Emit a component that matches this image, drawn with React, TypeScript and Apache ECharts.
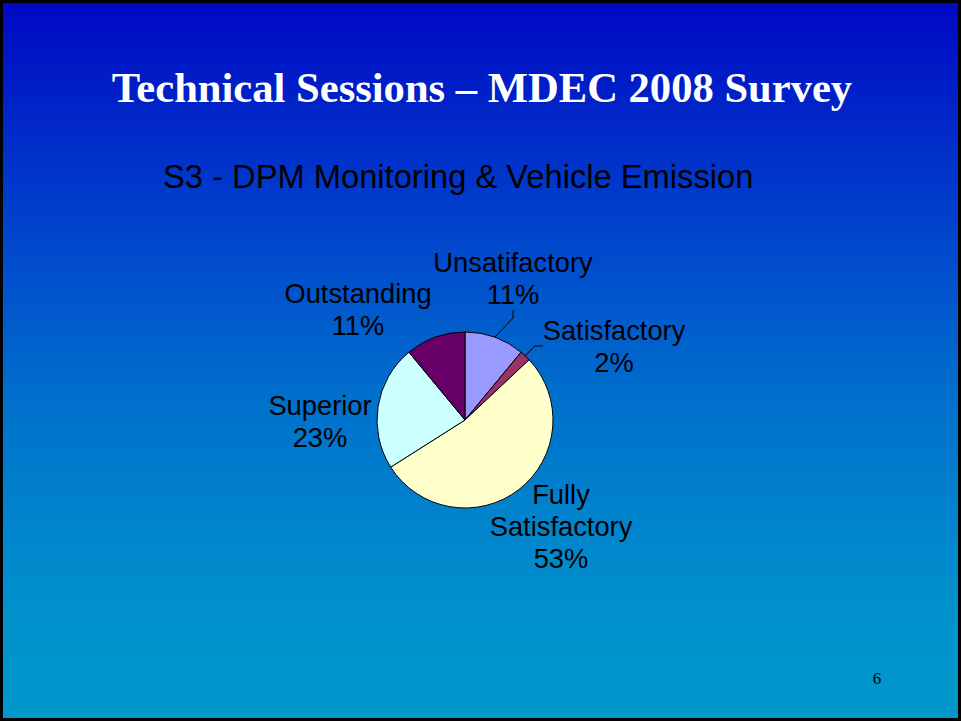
import React, { useEffect, useRef } from "react";
import * as echarts from "echarts";

const titleText = "Technical Sessions – MDEC 2008 Survey";
const subtitleText = "S3 - DPM Monitoring & Vehicle Emission";
const pageNumber = "6";

const categories = ["Unsatifactory", "Satisfactory", "Fully\nSatisfactory", "Superior", "Outstanding"];
const percentages = [11, 2, 53, 23, 11];
const sliceColors = ["#9999FF", "#993366", "#FFFFCC", "#CCFFFF", "#660066"];

// label placement (styling)
const labelSpots = [
  [513, 278],
  [614, 346],
  [561, 526],
  [320, 421],
  [358, 309],
];
const showLeader = [true, true, false, false, false];

export default function App() {
  const ref = useRef<HTMLDivElement>(null);
  useEffect(() => {
    document.body.style.margin = "0";
    const chart = echarts.init(ref.current!, null, { renderer: "svg" });
    chart.setOption({
      animation: false,
      backgroundColor: {
        type: "linear",
        x: 0,
        y: 0,
        x2: 0,
        y2: 1,
        colorStops: [
          { offset: 0, color: "#0008C4" },
          { offset: 0.3, color: "#0040CC" },
          { offset: 0.55, color: "#0070CC" },
          { offset: 0.83, color: "#0090CC" },
          { offset: 1, color: "#0099CC" },
        ],
      },
      graphic: [
        {
          type: "rect",
          shape: { x: 1.5, y: 1.5, width: 958, height: 718 },
          style: { fill: "none", stroke: "#000", lineWidth: 3 },
          silent: true,
        },
        {
          type: "text",
          x: 482,
          y: 87,
          style: {
            text: titleText,
            fill: "#FFFFFF",
            font: "bold 42.6px 'Liberation Serif', 'Times New Roman', serif",
            textAlign: "center",
            textVerticalAlign: "middle",
          },
        },
        {
          type: "text",
          x: 163,
          y: 176,
          style: {
            text: subtitleText,
            fill: "#000000",
            font: "32.7px 'Liberation Sans', Arial, sans-serif",
            textAlign: "left",
            textVerticalAlign: "middle",
          },
        },
        {
          type: "text",
          x: 877,
          y: 678,
          style: {
            text: pageNumber,
            fill: "#000000",
            font: "17px 'Liberation Serif', 'Times New Roman', serif",
            textAlign: "center",
            textVerticalAlign: "middle",
          },
        },
      ],
      series: [
        {
          type: "pie",
          center: [465, 420],
          radius: 88,
          startAngle: 90,
          clockwise: true,
          avoidLabelOverlap: false,
          data: categories.map((name, i) => ({
            name,
            value: percentages[i],
            itemStyle: { color: sliceColors[i] },
            labelLine: { show: showLeader[i] },
          })),
          itemStyle: { borderColor: "#000", borderWidth: 1 },
          label: {
            show: true,
            position: "outside",
            formatter: (p: any) => `${p.name}\n${p.value}%`,
            color: "#000",
            fontFamily: "'Liberation Sans', Arial, sans-serif",
            fontSize: 27.3,
            lineHeight: 32,
            align: "center",
          },
          labelLine: {
            show: true,
            length: 8,
            length2: 8,
            lineStyle: { color: "#000", width: 1 },
          },
          labelLayout: (params: any) => {
            const s = labelSpots[params.dataIndex];
            return { x: s[0], y: s[1], align: "center", verticalAlign: "middle" };
          },
        },
      ],
    });
    return () => chart.dispose();
  }, []);
  return (
    <div
      ref={ref}
      style={{ position: "fixed", left: 0, top: 0, width: 961, height: 721 }}
    />
  );
}
